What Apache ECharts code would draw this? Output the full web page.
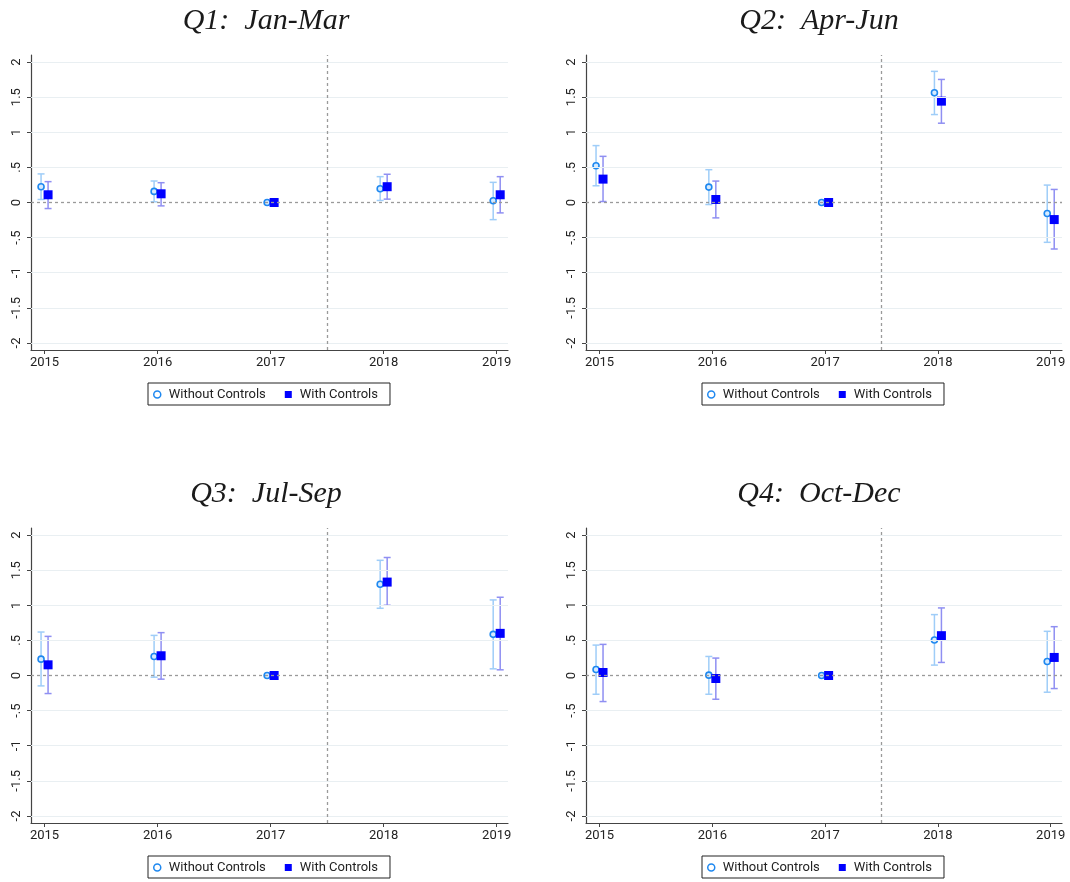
<!DOCTYPE html>
<html>
<head>
<meta charset="utf-8">
<script src="https://cdn.jsdelivr.net/npm/echarts@6/dist/echarts.min.js"></script>
<style>html,body{margin:0;padding:0;background:#fff}#c{width:1070px;height:882px}</style>
</head>
<body>
<div id="c"></div>
<script>
const years = [2015, 2016, 2017, 2018, 2019];
const yTicks = [-2, -1.5, -1, -0.5, 0, 0.5, 1, 1.5, 2];
const titles = ['Q1:  Jan-Mar', 'Q2:  Apr-Jun', 'Q3:  Jul-Sep', 'Q4:  Oct-Dec'];
const seriesNames = ['Without Controls', 'With Controls'];

// Q1
const q1WithoutEst = [0.225, 0.158, 0, 0.196, 0.024];
const q1WithoutLo  = [0.043, 0.010, null, 0.029, -0.244];
const q1WithoutHi  = [0.407, 0.306, null, 0.368, 0.287];
const q1WithEst    = [0.110, 0.124, 0, 0.225, 0.110];
const q1WithLo     = [-0.086, -0.048, null, 0.048, -0.148];
const q1WithHi     = [0.297, 0.282, null, 0.402, 0.368];
// Q2
const q2WithoutEst = [0.524, 0.219, 0, 1.562, -0.157];
const q2WithoutLo  = [0.238, -0.029, null, 1.252, -0.567];
const q2WithoutHi  = [0.810, 0.467, null, 1.867, 0.248];
const q2WithEst    = [0.333, 0.043, 0, 1.443, -0.243];
const q2WithLo     = [0.014, -0.219, null, 1.129, -0.662];
const q2WithHi     = [0.657, 0.305, null, 1.752, 0.186];
// Q3
const q3WithoutEst = [0.233, 0.271, 0, 1.300, 0.586];
const q3WithoutLo  = [-0.148, -0.024, null, 0.957, 0.095];
const q3WithoutHi  = [0.619, 0.571, null, 1.640, 1.076];
const q3WithEst    = [0.152, 0.281, 0, 1.330, 0.600];
const q3WithLo     = [-0.257, -0.052, null, 1.000, 0.081];
const q3WithHi     = [0.557, 0.610, null, 1.680, 1.114];
// Q4
const q4WithoutEst = [0.086, 0.005, 0, 0.505, 0.200];
const q4WithoutLo  = [-0.267, -0.267, null, 0.148, -0.238];
const q4WithoutHi  = [0.433, 0.271, null, 0.867, 0.629];
const q4WithEst    = [0.043, -0.043, 0, 0.567, 0.257];
const q4WithLo     = [-0.371, -0.338, null, 0.186, -0.186];
const q4WithHi     = [0.443, 0.248, null, 0.962, 0.695];

const panels = [
  {wo:[q1WithoutEst,q1WithoutLo,q1WithoutHi], w:[q1WithEst,q1WithLo,q1WithHi]},
  {wo:[q2WithoutEst,q2WithoutLo,q2WithoutHi], w:[q2WithEst,q2WithLo,q2WithHi]},
  {wo:[q3WithoutEst,q3WithoutLo,q3WithoutHi], w:[q3WithEst,q3WithLo,q3WithHi]},
  {wo:[q4WithoutEst,q4WithoutLo,q4WithoutHi], w:[q4WithEst,q4WithLo,q4WithHi]}
];

const gridPos = [
  {left: 31, top: 55, width: 477, height: 295},
  {left: 586, top: 55, width: 476, height: 295},
  {left: 31, top: 528, width: 477, height: 295},
  {left: 586, top: 528, width: 476, height: 295}
];
const titlePos = [{x: 261, y: 1}, {x: 814, y: 1}, {x: 261, y: 474}, {x: 814, y: 474}];
const legendPos = [{x: 148, y: 383}, {x: 702, y: 383}, {x: 148, y: 856}, {x: 702, y: 856}];

const OFF = 0.031;
const colWoCI = '#9fcdf8', colWCI = '#8f8ff2';
const colWoMark = '#1e88f0', colWMark = '#0000ff';

function fmtY(v) {
  if (v === 0) return '0';
  let s = String(v);
  return s.replace(/^0\./, '.').replace(/^-0\./, '-.');
}

function ciRender(color) {
  return function (params, api) {
    const x = api.value(0), lo = api.value(1), hi = api.value(2);
    const a = api.coord([x, lo]), b = api.coord([x, hi]);
    const hw = 3.5;
    const st = {stroke: color, lineWidth: 1.5};
    return {type: 'group', children: [
      {type: 'line', shape: {x1: a[0], y1: a[1], x2: b[0], y2: b[1]}, style: st},
      {type: 'line', shape: {x1: a[0]-hw, y1: a[1], x2: a[0]+hw, y2: a[1]}, style: st},
      {type: 'line', shape: {x1: b[0]-hw, y1: b[1], x2: b[0]+hw, y2: b[1]}, style: st}
    ]};
  };
}

const grid = [], xAxis = [], yAxis = [], series = [], title = [], legend = [];
panels.forEach((p, i) => {
  grid.push(Object.assign({containLabel: false}, gridPos[i]));
  xAxis.push({
    type: 'value', gridIndex: i, min: 2014.88, max: 2019.1,
    axisLine: {show: true, onZero: false, lineStyle: {color: '#444', width: 1.2}},
    axisTick: {show: true, customValues: years, length: 4, lineStyle: {color: '#444'}},
    axisLabel: {customValues: years, margin: 6, fontSize: 13, color: '#222', fontFamily: 'Roboto', formatter: v => String(v)},
    splitLine: {show: false}
  });
  yAxis.push({
    type: 'value', gridIndex: i, min: -2.1, max: 2.1,
    axisLine: {show: true, onZero: false, lineStyle: {color: '#444', width: 1.2}},
    axisTick: {show: true, customValues: yTicks, length: 4, lineStyle: {color: '#444'}},
    axisLabel: {customValues: yTicks, rotate: 90, margin: 8, fontSize: 13, color: '#222', fontFamily: 'Roboto', formatter: fmtY},
    splitLine: {show: false}
  });
  series.push({
    type: 'line', xAxisIndex: i, yAxisIndex: i, data: [], silent: true, z: 0,
    markLine: {
      silent: true, symbol: 'none', animation: false, label: {show: false},
      lineStyle: {color: '#e9eff2', width: 1.2, type: 'solid'},
      data: yTicks.filter(v => v !== 0).map(v => ({yAxis: v}))
    }
  });
  series.push({
    type: 'line', xAxisIndex: i, yAxisIndex: i, data: [], silent: true, z: 1,
    markLine: {
      silent: true, symbol: 'none', animation: false, label: {show: false},
      lineStyle: {color: '#9a9a9a', width: 1.3, type: [3, 3]},
      data: [{yAxis: 0}, {xAxis: 2017.5}]
    }
  });
  const woCI = [], wCI = [], woPts = [], wPts = [];
  years.forEach((yr, k) => {
    if (p.wo[1][k] !== null) woCI.push([yr - OFF, p.wo[1][k], p.wo[2][k]]);
    if (p.w[1][k] !== null) wCI.push([yr + OFF, p.w[1][k], p.w[2][k]]);
    woPts.push([yr - OFF, p.wo[0][k]]);
    wPts.push([yr + OFF, p.w[0][k]]);
  });
  series.push({type: 'custom', xAxisIndex: i, yAxisIndex: i, renderItem: ciRender(colWoCI), data: woCI, z: 2, silent: true, encode: {x: 0, y: [1, 2]}});
  series.push({type: 'custom', xAxisIndex: i, yAxisIndex: i, renderItem: ciRender(colWCI), data: wCI, z: 2, silent: true, encode: {x: 0, y: [1, 2]}});
  series.push({name: seriesNames[0], type: 'scatter', xAxisIndex: i, yAxisIndex: i, data: woPts, symbol: 'circle', symbolSize: 6, z: 3,
    itemStyle: {color: '#d6ebff', borderColor: colWoMark, borderWidth: 1.6, opacity: 1}});
  series.push({name: seriesNames[1], type: 'scatter', xAxisIndex: i, yAxisIndex: i, data: wPts, symbol: 'rect', symbolSize: 9, z: 4,
    itemStyle: {color: colWMark, opacity: 1}});
  title.push({
    text: titles[i], left: titlePos[i].x, top: titlePos[i].y, textAlign: 'center',
    textStyle: {fontFamily: 'Liberation Serif', fontStyle: 'italic', fontWeight: 'normal', fontSize: 30, color: '#1a1a1a'}
  });
  legend.push({
    left: legendPos[i].x, top: legendPos[i].y, orient: 'horizontal',
    borderColor: '#222', borderWidth: 1, padding: [5, 12, 4, 5], itemGap: 19,
    itemWidth: 7, itemHeight: 7, selectedMode: false,
    textStyle: {fontFamily: 'Roboto', fontSize: 13, color: '#222', padding: [0, 0, 0, 3]},
    data: [
      {name: seriesNames[0], icon: 'circle', itemStyle: {color: '#fff', borderColor: colWoMark, borderWidth: 1.5}},
      {name: seriesNames[1], icon: 'rect', itemStyle: {color: colWMark}}
    ]
  });
});

const chart = echarts.init(document.getElementById('c'), null, {renderer: 'canvas'});
chart.setOption({animation: false, backgroundColor: '#fff', grid, xAxis, yAxis, series, title, legend});
</script>
</body>
</html>
